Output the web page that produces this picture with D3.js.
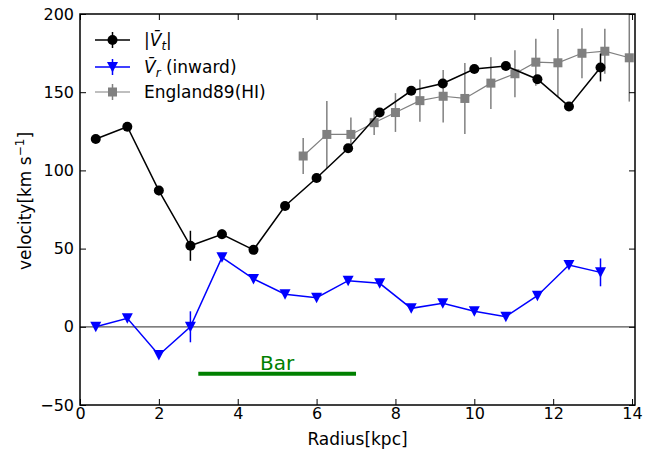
<!DOCTYPE html>
<html>
<head>
<meta charset="utf-8">
<script src="https://cdn.jsdelivr.net/npm/d3@7"></script>
<style>
body{margin:0;background:#fff;}
text{font-family:"DejaVu Sans",sans-serif;}
</style>
</head>
<body>
<svg id="chart" width="665" height="454"></svg>
<script>
// ---- data ----
const vtR   = [0.4,1.2,2.0,2.8,3.6,4.4,5.2,6.0,6.8,7.6,8.4,9.2,10.0,10.8,11.6,12.4,13.2];
const vtV   = [120.1,127.9,87.1,51.8,59.2,49.2,77.2,95.1,114.2,137.0,150.9,155.6,164.8,166.8,158.3,140.9,165.8];
const vtErr = [1.5,1.5,3,9.6,3,1.5,1.5,1.5,1.5,1.5,1.5,1.5,1.5,1.5,1.5,1.5,8.9];

const vrR   = [0.4,1.2,2.0,2.8,3.6,4.4,5.2,6.0,6.8,7.6,8.4,9.2,10.0,10.8,11.6,12.4,13.2];
const vrV   = [0.0,5.4,-18.0,0.0,44.4,30.6,20.8,18.6,29.5,27.8,11.8,15.0,10.0,6.5,19.9,39.5,34.8];
const vrErr = [1,1,1.5,9.9,1.5,1,1,1,1,1,1,1,1,1,1,1,8.9];

const hiR   = [5.66,6.26,6.87,7.46,8.0,8.62,9.21,9.76,10.42,11.03,11.56,12.12,12.73,13.31,13.93];
const hiV   = [109.2,123.0,123.0,130.5,137.0,144.6,147.4,146.0,155.8,161.8,169.2,168.8,174.9,176.2,172.0];
const hiErr = [11.5,21.4,10.9,7.8,12.4,13.5,16.8,22.7,16.5,15.0,15.0,21.6,16.0,14.4,28.0];

const xTicks = [0,2,4,6,8,10,12,14];
const yTicks = [-50,0,50,100,150,200];
const barSpan = [3,7];
const barLevel = -30;

// ---- layout ----
const svg = d3.select("#chart");
const L = 80, R = 635, T = 14, B = 405;
const x = d3.scaleLinear().domain([0,14.075]).range([L,R]);
const y = d3.scaleLinear().domain([-50,200]).range([B,T]);

svg.append("defs").append("clipPath").attr("id","clip")
  .append("rect").attr("x",L).attr("y",T).attr("width",R-L).attr("height",B-T);

const plot = svg.append("g").attr("clip-path","url(#clip)");

// zero line
plot.append("line").attr("x1",L).attr("x2",R).attr("y1",y(0)).attr("y2",y(0))
  .attr("stroke","#555").attr("stroke-width",1.3);

// bar
plot.append("line").attr("x1",x(barSpan[0])).attr("x2",x(barSpan[1]))
  .attr("y1",y(barLevel)).attr("y2",y(barLevel))
  .attr("stroke","#008000").attr("stroke-width",4);
svg.append("text").attr("x",x((barSpan[0]+barSpan[1])/2)).attr("y",y(barLevel)-4)
  .attr("text-anchor","middle").attr("font-size",20).attr("fill","#008000").text("Bar");

function series(R_, V_, E_, color, lw, ewidth, markerFn){
  const g = plot.append("g");
  g.selectAll("line.err").data(R_).join("line")
    .attr("x1",(d)=>x(d)).attr("x2",(d)=>x(d))
    .attr("y1",(d,i)=>y(V_[i]-E_[i])).attr("y2",(d,i)=>y(V_[i]+E_[i]))
    .attr("stroke",color).attr("stroke-width",ewidth);
  g.append("path").datum(R_.map((r,i)=>[r,V_[i]]))
    .attr("d",d3.line().x(d=>x(d[0])).y(d=>y(d[1])))
    .attr("fill","none").attr("stroke",color).attr("stroke-width",lw);
  R_.forEach((r,i)=>markerFn(g, x(r), y(V_[i])));
}
const circle = (c)=>(g,cx,cy)=>g.append("circle").attr("cx",cx).attr("cy",cy).attr("r",5).attr("fill",c);
const square = (c)=>(g,cx,cy)=>g.append("rect").attr("x",cx-4.5).attr("y",cy-4.5).attr("width",9).attr("height",9).attr("fill",c);
const tri = (c)=>(g,cx,cy)=>g.append("path").attr("d",`M${cx-5.5},${cy-5}L${cx+5.5},${cy-5}L${cx},${cy+5.5}Z`).attr("fill",c);

series(hiR, hiV, hiErr, "#808080", 1.2, 1.5, square("#808080"));
series(vtR, vtV, vtErr, "#000000", 1.5, 1.5, circle("#000"));
series(vrR, vrV, vrErr, "#0000ff", 1.5, 1.5, tri("#0000ff"));

// frame
svg.append("rect").attr("x",L).attr("y",T).attr("width",R-L).attr("height",B-T)
  .attr("fill","none").attr("stroke","#000").attr("stroke-width",1.5);

// axes with inward ticks
const axB = svg.append("g").attr("transform",`translate(0,${B})`)
  .call(d3.axisBottom(x).tickValues(xTicks).tickSize(-6).tickPadding(3).tickFormat(d3.format("d")));
const axT = svg.append("g").attr("transform",`translate(0,${T})`)
  .call(d3.axisTop(x).tickValues(xTicks).tickSize(-6).tickFormat(""));
const axL = svg.append("g").attr("transform",`translate(${L},0)`)
  .call(d3.axisLeft(y).tickValues(yTicks).tickSize(-6).tickPadding(6).tickFormat(d=>d<0?"\u2212"+Math.abs(d):d));
const axR = svg.append("g").attr("transform",`translate(${R},0)`)
  .call(d3.axisRight(y).tickValues(yTicks).tickSize(-6).tickFormat(""));
[axB,axT,axL,axR].forEach(a=>{
  a.select(".domain").remove();
  a.selectAll("line").attr("stroke","#000").attr("stroke-width",1);
  a.selectAll("text").attr("font-size",16).attr("fill","#000").attr("font-family","DejaVu Sans");
});

// axis labels
svg.append("text").attr("x",(L+R)/2).attr("y",445).attr("text-anchor","middle")
  .attr("font-size",17).text("Radius[kpc]");
const yl = svg.append("text").attr("transform",`translate(31,${201}) rotate(-90)`)
  .attr("text-anchor","middle").attr("font-size",17);
yl.append("tspan").text("velocity[km s");
yl.append("tspan").attr("dy",-7).attr("font-size",12).text("\u22121");
yl.append("tspan").attr("dy",7).text("]");

// legend
const leg = svg.append("g");
const rows = [
  {y:40, color:"#000", m:circle("#000"), lw:1.5},
  {y:67, color:"#0000ff", m:tri("#0000ff"), lw:1.5},
  {y:92, color:"#808080", m:square("#808080"), lw:1.2}
];
rows.forEach(r=>{
  leg.append("line").attr("x1",95).attr("x2",130).attr("y1",r.y).attr("y2",r.y).attr("stroke",r.color).attr("stroke-width",r.lw);
  leg.append("line").attr("x1",112.5).attr("x2",112.5).attr("y1",r.y-8).attr("y2",r.y+8).attr("stroke",r.color).attr("stroke-width",1.5);
  r.m(leg,112.5,r.y);
});
const t1 = leg.append("text").attr("x",144).attr("y",46).attr("font-size",17);
t1.append("tspan").text("|");
t1.append("tspan").attr("font-style","italic").text("V\u0304");
t1.append("tspan").attr("font-style","italic").attr("font-size",12).attr("dy",4).text("t");
t1.append("tspan").attr("dy",-4).text("|");
const t2 = leg.append("text").attr("x",144).attr("y",73).attr("font-size",17);
t2.append("tspan").attr("font-style","italic").text("V\u0304");
t2.append("tspan").attr("font-style","italic").attr("font-size",12).attr("dy",4).text("r");
t2.append("tspan").attr("dy",-4).text(" (inward)");
leg.append("text").attr("x",144).attr("y",98).attr("font-size",17).text("England89(HI)");
</script>
</body>
</html>
